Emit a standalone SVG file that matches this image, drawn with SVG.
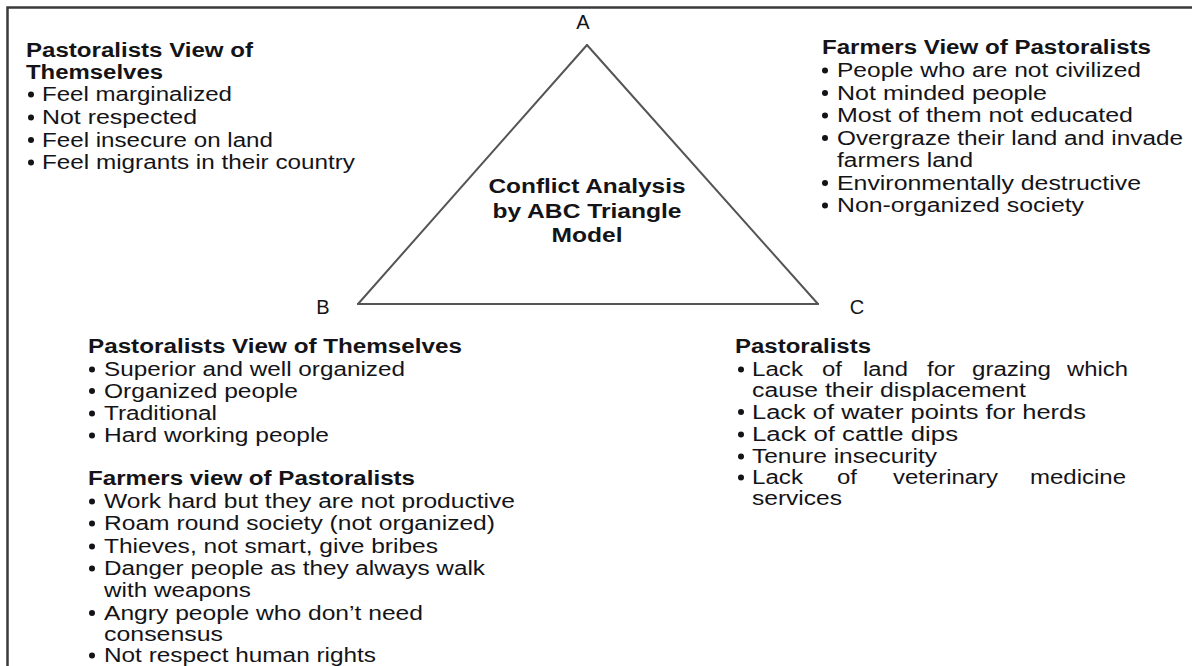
<svg xmlns="http://www.w3.org/2000/svg" width="1192" height="666" viewBox="0 0 1192 666">
<style>
.t{font-family:"Liberation Sans",Arial,sans-serif;font-size:20px;fill:#141418}
.b{font-family:"Liberation Sans",Arial,sans-serif;font-size:20px;font-weight:bold;fill:#141418}
.d{fill:#141418}
.edge{stroke:#555;stroke-width:2;fill:none;stroke-linecap:round}
</style>
<rect width="1192" height="666" fill="#fff"/>
<path d="M7.5 666 V7.5 H1192" fill="none" stroke="#3a3a3a" stroke-width="2.5"/>
<g id="connectors">
<line class="edge" x1="587" y1="45" x2="358" y2="304"/>
<line class="edge" x1="358" y1="304" x2="818" y2="304"/>
<line class="edge" x1="818" y1="304" x2="587" y2="45"/>
</g>
<g id="nodeA"><text class="t" x="583" y="29" text-anchor="middle">A</text></g>
<g id="nodeB"><text class="t" x="323" y="314" text-anchor="middle">B</text></g>
<g id="nodeC"><text class="t" x="857" y="314" text-anchor="middle">C</text></g>
<g id="center">
<text class="b" x="587" y="193" text-anchor="middle" textLength="197" lengthAdjust="spacingAndGlyphs">Conflict Analysis</text>
<text class="b" x="587" y="218" text-anchor="middle" textLength="189" lengthAdjust="spacingAndGlyphs">by ABC Triangle</text>
<text class="b" x="587" y="242" text-anchor="middle" textLength="71" lengthAdjust="spacingAndGlyphs">Model</text>
</g>
<g id="topLeft">
<text class="b" x="26" y="57" textLength="227" lengthAdjust="spacingAndGlyphs">Pastoralists View of</text>
<text class="b" x="26" y="79" textLength="137" lengthAdjust="spacingAndGlyphs">Themselves</text>
<circle class="d" cx="31" cy="94.5" r="3"/><text class="t" x="42" y="101" textLength="190" lengthAdjust="spacingAndGlyphs">Feel marginalized</text>
<circle class="d" cx="31" cy="117.5" r="3"/><text class="t" x="42" y="124" textLength="155" lengthAdjust="spacingAndGlyphs">Not respected</text>
<circle class="d" cx="31" cy="140" r="3"/><text class="t" x="42" y="146.5" textLength="231" lengthAdjust="spacingAndGlyphs">Feel insecure on land</text>
<circle class="d" cx="31" cy="162.5" r="3"/><text class="t" x="42" y="169" textLength="313" lengthAdjust="spacingAndGlyphs">Feel migrants in their country</text>
</g>
<g id="topRight">
<text class="b" x="822" y="54" textLength="329" lengthAdjust="spacingAndGlyphs">Farmers View of Pastoralists</text>
<circle class="d" cx="825" cy="70.5" r="3"/><text class="t" x="837" y="77" textLength="304" lengthAdjust="spacingAndGlyphs">People who are not civilized</text>
<circle class="d" cx="825" cy="93" r="3"/><text class="t" x="837" y="99.5" textLength="210" lengthAdjust="spacingAndGlyphs">Not minded people</text>
<circle class="d" cx="825" cy="115.5" r="3"/><text class="t" x="837" y="122" textLength="296" lengthAdjust="spacingAndGlyphs">Most of them not educated</text>
<circle class="d" cx="825" cy="138" r="3"/><text class="t" x="837" y="144.5" textLength="346" lengthAdjust="spacingAndGlyphs">Overgraze their land and invade</text>
<text class="t" x="837" y="167" textLength="136" lengthAdjust="spacingAndGlyphs">farmers land</text>
<circle class="d" cx="825" cy="183" r="3"/><text class="t" x="837" y="189.5" textLength="304" lengthAdjust="spacingAndGlyphs">Environmentally destructive</text>
<circle class="d" cx="825" cy="205.5" r="3"/><text class="t" x="837" y="212" textLength="247" lengthAdjust="spacingAndGlyphs">Non-organized society</text>
</g>
<g id="bottomLeft">
<text class="b" x="88" y="353" textLength="374" lengthAdjust="spacingAndGlyphs">Pastoralists View of Themselves</text>
<circle class="d" cx="92" cy="369.5" r="3"/><text class="t" x="104" y="376" textLength="301" lengthAdjust="spacingAndGlyphs">Superior and well organized</text>
<circle class="d" cx="92" cy="391" r="3"/><text class="t" x="104" y="397.5" textLength="194" lengthAdjust="spacingAndGlyphs">Organized people</text>
<circle class="d" cx="92" cy="413.5" r="3"/><text class="t" x="104" y="420" textLength="113" lengthAdjust="spacingAndGlyphs">Traditional</text>
<circle class="d" cx="92" cy="435.5" r="3"/><text class="t" x="104" y="442" textLength="225" lengthAdjust="spacingAndGlyphs">Hard working people</text>
<text class="b" x="88" y="485" textLength="327" lengthAdjust="spacingAndGlyphs">Farmers view of Pastoralists</text>
<circle class="d" cx="92" cy="501.5" r="3"/><text class="t" x="104" y="508" textLength="411" lengthAdjust="spacingAndGlyphs">Work hard but they are not productive</text>
<circle class="d" cx="92" cy="523.5" r="3"/><text class="t" x="104" y="530" textLength="391" lengthAdjust="spacingAndGlyphs">Roam round society (not organized)</text>
<circle class="d" cx="92" cy="546.5" r="3"/><text class="t" x="104" y="553" textLength="334" lengthAdjust="spacingAndGlyphs">Thieves, not smart, give bribes</text>
<circle class="d" cx="92" cy="568.5" r="3"/><text class="t" x="104" y="575" textLength="381" lengthAdjust="spacingAndGlyphs">Danger people as they always walk</text>
<text class="t" x="104" y="596.5" textLength="147" lengthAdjust="spacingAndGlyphs">with weapons</text>
<circle class="d" cx="92" cy="613" r="3"/><text class="t" x="104" y="619.5" textLength="319" lengthAdjust="spacingAndGlyphs">Angry people who don’t need</text>
<text class="t" x="104" y="640.5" textLength="119" lengthAdjust="spacingAndGlyphs">consensus</text>
<circle class="d" cx="92" cy="655.5" r="3"/><text class="t" x="104" y="662" textLength="272" lengthAdjust="spacingAndGlyphs">Not respect human rights</text>
</g>
<g id="bottomRight">
<text class="b" x="735" y="353" textLength="136" lengthAdjust="spacingAndGlyphs">Pastoralists</text>
<circle class="d" cx="741" cy="369.5" r="3"/>
<text class="t" x="752" y="376" textLength="51" lengthAdjust="spacingAndGlyphs">Lack</text>
<text class="t" x="822" y="376" textLength="20" lengthAdjust="spacingAndGlyphs">of</text>
<text class="t" x="863" y="376" textLength="45" lengthAdjust="spacingAndGlyphs">land</text>
<text class="t" x="927" y="376" textLength="28" lengthAdjust="spacingAndGlyphs">for</text>
<text class="t" x="972" y="376" textLength="79" lengthAdjust="spacingAndGlyphs">grazing</text>
<text class="t" x="1067" y="376" textLength="61" lengthAdjust="spacingAndGlyphs">which</text>
<text class="t" x="752" y="397" textLength="274" lengthAdjust="spacingAndGlyphs">cause their displacement</text>
<circle class="d" cx="741" cy="412" r="3"/><text class="t" x="752" y="418.5" textLength="334" lengthAdjust="spacingAndGlyphs">Lack of water points for herds</text>
<circle class="d" cx="741" cy="434.5" r="3"/><text class="t" x="752" y="441" textLength="206" lengthAdjust="spacingAndGlyphs">Lack of cattle dips</text>
<circle class="d" cx="741" cy="456.5" r="3"/><text class="t" x="752" y="463" textLength="185" lengthAdjust="spacingAndGlyphs">Tenure insecurity</text>
<circle class="d" cx="741" cy="477.5" r="3"/>
<text class="t" x="752" y="484" textLength="51" lengthAdjust="spacingAndGlyphs">Lack</text>
<text class="t" x="837" y="484" textLength="20" lengthAdjust="spacingAndGlyphs">of</text>
<text class="t" x="893" y="484" textLength="105" lengthAdjust="spacingAndGlyphs">veterinary</text>
<text class="t" x="1030" y="484" textLength="96" lengthAdjust="spacingAndGlyphs">medicine</text>
<text class="t" x="752" y="505" textLength="90" lengthAdjust="spacingAndGlyphs">services</text>
</g>
</svg>
